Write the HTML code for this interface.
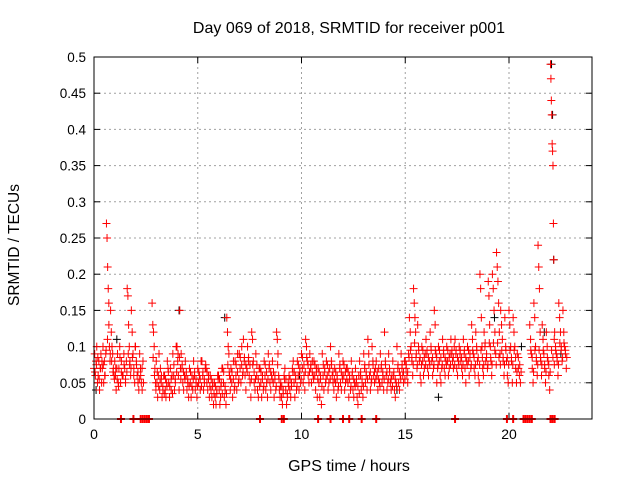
<!DOCTYPE html>
<html><head><meta charset="utf-8"><style>
html,body{margin:0;padding:0;background:#fff;}
svg{display:block;font-family:"Liberation Sans",sans-serif;}
</style></head><body>
<svg id="chart" width="640" height="480" viewBox="0 0 640 480" xmlns="http://www.w3.org/2000/svg">
<rect width="640" height="480" fill="#fff"/>
<text x="349" y="33" font-size="16" text-anchor="middle">Day 069 of 2018, SRMTID for receiver p001</text>
<text x="349" y="471" font-size="16" text-anchor="middle">GPS time / hours</text>
<text transform="translate(19,245) rotate(-90)" font-size="15.5" text-anchor="middle">SRMTID / TECUs</text>
<g id="grid"></g><g id="ticks"></g><g id="black"></g><g id="red"></g>
<rect x="94" y="57" width="498" height="362" fill="none" stroke="#000" stroke-width="1"/>
</svg>
<script>
const xTicks=[0,5,10,15,20];
const yTicks=[0,0.05,0.1,0.15,0.2,0.25,0.3,0.35,0.4,0.45,0.5];
const yLabels=["0","0.05","0.1","0.15","0.2","0.25","0.3","0.35","0.4","0.45","0.5"];
const redTimes=[0,0.2,0.4,0.6,0.8,1.0,1.2,1.4,1.6,1.8,2.0,2.2,2.8,3.0,3.2,3.4,3.6,3.8,4.0,4.2,4.4,4.6,4.8,5.0,5.2,5.4,5.6,5.8,6.0,6.2,6.4,6.6,6.8,7.0,7.2,7.4,7.6,7.8,8.0,8.2,8.4,8.6,8.8,9.0,9.2,9.4,9.6,9.8,10.0,10.2,10.4,10.6,10.8,11.0,11.2,11.4,11.6,11.8,12.0,12.2,12.4,12.6,12.8,13.0,13.2,13.4,13.6,13.8,14.0,14.2,14.4,14.6,14.8,15.0,15.2,15.4,15.6,15.8,16.0,16.2,16.4,16.6,16.8,17.0,17.2,17.4,17.6,17.8,18.0,18.2,18.4,18.6,18.8,19.0,19.2,19.4,19.6,19.8,20.0,20.2,20.4,21.0,21.2,21.4,21.6,21.8,22.0,22.2,22.4,22.6];
const redValues=[
[.07,.09,.06,.08,.1,.05],[.06,.08,.04,.07,.09,.05],[.07,.1,.05,.08,.06,.09],[.27,.25,.21,.18,.16,.1,.08],[.15,.12,.1,.09,.07,.06],
[.08,.06,.04,.07,.09,.05],[.07,.1,.05,.08,.06],[.06,.09,.07,.05,.08],[.18,.17,.13,.1,.08,.06],[.15,.12,.09,.07,.05],
[.1,.08,.06,.05,.04],[.09,.07,.05,.04,.08],[.16,.13,.12,.1,.07,.05],[.08,.05,.03,.06,.09,.04],[.07,.05,.03,.04,.06],
[.06,.04,.03,.05,.08,.07],[.05,.03,.07,.04,.06],[.09,.06,.04,.05,.1],[.1,.08,.06,.04,.15,.07],[.09,.07,.05,.04,.06],
[.08,.06,.04,.05,.03],[.07,.05,.03,.06,.04],[.08,.06,.04,.05,.03],[.07,.05,.06,.04,.08],[.08,.06,.04,.05,.07],
[.07,.05,.04,.06,.03],[.06,.04,.03,.05,.02],[.05,.03,.02,.04,.06],[.06,.04,.02,.03,.05,.07],[.07,.05,.03,.04,.02],
[.14,.12,.1,.09,.06,.04],[.07,.05,.03,.08,.04],[.08,.06,.04,.09,.05],[.09,.07,.05,.1,.06],[.11,.08,.06,.04,.07],
[.1,.08,.06,.05,.03],[.12,.11,.08,.05,.04],[.09,.06,.04,.03,.07],[.07,.05,.03,.06,.04],[.08,.06,.04,.05,.03],
[.09,.07,.05,.04,.06],[.08,.05,.03,.06,.04],[.12,.11,.09,.06,.04,.03],[.05,.03,.02,.04,.06],[.07,.04,.02,.03,.05],
[.06,.04,.03,.05,.07],[.08,.05,.03,.06,.04],[.08,.06,.04,.07,.05],[.09,.07,.05,.06,.04],[.11,.1,.08,.06,.05],
[.09,.07,.05,.08,.06],[.08,.06,.04,.07,.03],[.07,.05,.03,.06,.02],[.09,.06,.04,.07,.05],[.08,.06,.04,.05,.07],
[.1,.08,.06,.05,.04],[.07,.05,.03,.06,.04],[.09,.07,.05,.04,.06],[.08,.06,.04,.05,.07],[.07,.05,.03,.06,.04],
[.08,.06,.04,.03,.05],[.07,.05,.03,.02,.06],[.08,.06,.04,.05,.03],[.09,.07,.05,.06,.04],[.11,.09,.06,.04,.05],
[.1,.08,.06,.05,.07],[.08,.06,.04,.07,.05],[.09,.07,.05,.06,.04],[.12,.08,.06,.04,.05],[.09,.07,.05,.04,.06],
[.08,.06,.04,.03,.05],[.1,.07,.05,.04,.06],[.09,.07,.06,.05,.08],[.08,.07,.06,.05,.09],[.14,.12,.1,.08,.06],
[.18,.16,.14,.12,.09,.07],[.13,.1,.08,.06,.05],[.1,.08,.06,.07,.09],[.11,.09,.07,.06,.08],[.12,.1,.08,.06,.07],
[.15,.13,.09,.05,.07],[.1,.08,.06,.05,.07],[.11,.09,.07,.06,.08],[.1,.08,.06,.07,.09],[.11,.09,.08,.07,.1],
[.11,.09,.07,.06,.08],[.1,.09,.08,.07,.06],[.11,.09,.07,.05,.08],[.1,.08,.06,.09,.07],[.13,.11,.09,.07,.06],
[.12,.1,.08,.06,.05],[.2,.18,.14,.1,.07,.06],[.12,.1,.08,.09,.07],[.19,.17,.13,.1,.08,.06],[.2,.18,.15,.12,.09],
[.23,.21,.19,.16,.12,.09],[.15,.13,.11,.08,.06],[.14,.1,.08,.06,.05],[.15,.13,.1,.08,.05],[.14,.12,.1,.07,.05],
[.09,.07,.06,.05],[.13,.11,.09,.07,.05],[.16,.14,.1,.08,.06],[.24,.21,.18,.12,.08,.06],[.13,.11,.09,.07,.05],
[.12,.1,.08,.06,.04],[.49,.47,.44,.42,.38,.37,.35,.27,.22,.11],[.12,.1,.09,.08,.06],[.16,.14,.12,.1,.08],[.15,.12,.1,.09,.07]];
const redValues2=[
[.065,.075,.085],[.055,.07,.08],[.075,.06,.095],[.11,.13,.09],[.08,.065,.055],
[.07,.055,.045],[.085,.065,.06],[.075,.055,.065],[.09,.075,.07],[.085,.06,.1],
[.075,.065,.055],[.06,.07,.05],[.085,.06,.04],[.065,.045,.055],[.06,.045,.035],
[.055,.045,.065],[.045,.055,.035],[.075,.055,.065],[.09,.085,.055],[.075,.065,.055],
[.065,.055,.045],[.065,.045,.055],[.065,.055,.045],[.065,.055,.045],[.065,.055,.075],
[.065,.055,.045],[.055,.045,.035],[.045,.035,.055],[.055,.045,.035],[.065,.045,.035],
[.075,.065,.055],[.065,.055,.045],[.075,.065,.055],[.085,.075,.065],[.085,.075,.065],
[.085,.075,.055],[.075,.065,.055],[.075,.055,.045],[.065,.055,.045],[.075,.065,.055],
[.075,.065,.055],[.065,.055,.045],[.075,.055,.045],[.045,.035,.055],[.055,.035,.045],
[.055,.045,.065],[.065,.055,.045],[.075,.065,.055],[.085,.075,.065],[.085,.075,.065],
[.075,.065,.055],[.075,.065,.055],[.065,.055,.045],[.075,.065,.055],[.075,.065,.055],
[.075,.065,.055],[.065,.055,.045],[.075,.065,.055],[.075,.065,.055],[.065,.055,.045],
[.065,.055,.045],[.055,.045,.035],[.065,.055,.045],[.075,.065,.055],[.075,.065,.055],
[.075,.065,.055],[.065,.055,.045],[.075,.065,.055],[.075,.065,.055],[.065,.055,.045],
[.065,.055,.045],[.075,.065,.055],[.075,.065,.055],[.075,.065,.085],[.095,.085,.075],
[.105,.085,.075],[.095,.085,.075],[.095,.085,.075],[.095,.085,.075],[.095,.085,.075],
[.095,.085,.075],[.095,.085,.075],[.095,.085,.075],[.095,.085,.075],[.095,.085,.075],
[.095,.085,.075],[.095,.085,.075],[.095,.085,.075],[.095,.085,.075],[.095,.085,.075],
[.095,.085,.075],[.095,.085,.075],[.105,.085,.075],[.105,.085,.075],[.105,.095,.075],
[.105,.085,.075],[.095,.085,.075],[.095,.085,.075],[.095,.085,.075],[.095,.085,.065],
[.085,.075,.065],[.095,.085,.065],[.095,.085,.075],[.095,.085,.075],[.095,.075,.065],
[.085,.075,.065],[.095,.085,.075],[.095,.085,.075],[.105,.095,.085],[.105,.095,.085]];
const zeroTimes=[1.3,1.9,2.25,2.35,2.45,2.55,2.65,8.0,9.05,9.15,10.8,11.4,12.0,12.3,12.9,13.6,17.4,19.9,20.2,20.7,20.8,20.9,21.0,21.1,22.0,22.1,22.2];
const blackTimes=[0.1,1.1,4.1,6.3,9.9,14.6,16.6,19.3,20.6,21.7,22.05,22.1,22.15,22.5];
const blackValues=[0.04,0.11,0.15,0.14,0.06,0.04,0.03,0.14,0.1,0.12,0.49,0.42,0.22,0.09];

const X0=94,X1=592,Y0=419,Y1=57,XMAX=24,YMAX=0.5;
function sx(t){return X0+(X1-X0)*t/XMAX;}
function sy(v){return Y0-(Y0-Y1)*v/YMAX;}
const NS="http://www.w3.org/2000/svg";
function mk(tag,attrs,parent){const e=document.createElementNS(NS,tag);for(const k in attrs)e.setAttribute(k,attrs[k]);parent.appendChild(e);return e;}
const grid=document.getElementById('grid'),ticks=document.getElementById('ticks');
xTicks.forEach(t=>{
  const x=sx(t);
  if(t>0){const g=mk('line',{x1:x,x2:x,y1:Y1,y2:Y0,stroke:'#a0a0a0','stroke-dasharray':'2,3'},grid);
  
  }
  mk('line',{x1:x,x2:x,y1:Y0,y2:Y0-6,stroke:'#000'},ticks);
  mk('line',{x1:x,x2:x,y1:Y1,y2:Y1+6,stroke:'#000'},ticks);
  const l=mk('text',{x:x,y:Y0+20,'font-size':14,'text-anchor':'middle'},ticks);l.textContent=t;
  
  
});
yTicks.forEach((v,i)=>{
  const y=sy(v);
  if(v>0&&v<0.5){const g=mk('line',{x1:X0,x2:X1,y1:y,y2:y,stroke:'#a0a0a0','stroke-dasharray':'2,3'},grid);
  
  }
  mk('line',{x1:X0,x2:X0+6,y1:y,y2:y,stroke:'#000'},ticks);
  mk('line',{x1:X1,x2:X1-6,y1:y,y2:y,stroke:'#000'},ticks);
  const l=mk('text',{x:X0-8,y:y+5,'font-size':13.5,'text-anchor':'end'},ticks);l.textContent=yLabels[i];
  
  
});
function cross(parent,t,v,color){
  const x=sx(t),y=sy(v);
  return mk('path',{d:`M${x-4} ${y}H${x+4}M${x} ${y-4}V${y+4}`,stroke:color,'stroke-width':1,fill:'none'},parent);
}
const blk=document.getElementById('black');
blackTimes.forEach((t,i)=>{const p=cross(blk,t,blackValues[i],'#000');
  
  });
const red=document.getElementById('red');
redTimes.forEach((t,i)=>{const vals=redValues[i];vals.forEach((v,j)=>{
  const p=cross(red,t+0.2*j/vals.length,v,'#f00');
  
  });
  const v2=redValues2[i];v2.forEach((v,j)=>{
  const p=cross(red,t+0.05+0.2*j/v2.length,v,'#f00');
  
  });});
zeroTimes.forEach(t=>{const p=cross(red,t,0,'#f00');p.setAttribute('stroke-width',2);
  
  });
</script>
</body></html>
